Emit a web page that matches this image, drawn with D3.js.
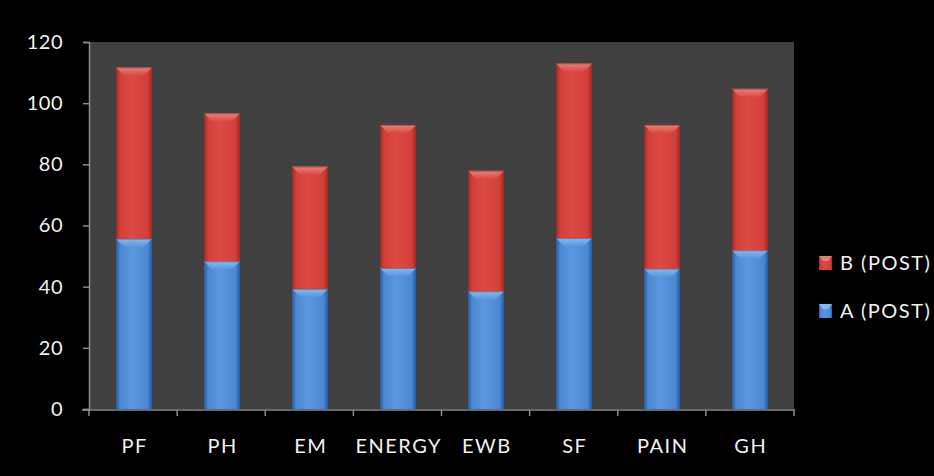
<!DOCTYPE html>
<html>
<head>
<meta charset="utf-8">
<script src="https://cdn.jsdelivr.net/npm/d3@7"></script>
<style>
  html, body { margin: 0; padding: 0; background: #000; }
  svg { display: block; }
  text { font-family: Lato, "Open Sans", sans-serif; fill: #f2f2f2; }
</style>
</head>
<body>
<svg id="chart" width="934" height="476"></svg>
<script>
// Scale categories and stacked series values
const categories = ["PF", "PH", "EM", "ENERGY", "EWB", "SF", "PAIN", "GH"];
const seriesA = [55.7, 48.3, 39.3, 46.1, 38.5, 55.9, 45.9, 51.9];   // A (POST)
const seriesB = [56.0, 48.4, 40.0, 46.8, 39.4, 57.1, 47.0, 52.8];   // B (POST)
const yTicks = [0, 20, 40, 60, 80, 100, 120];
const seriesNames = ["A (POST)", "B (POST)"];

const svg = d3.select("#chart");
const W = 934, H = 476;
const plot = { left: 90, right: 794, top: 42, bottom: 409 };

svg.append("rect").attr("width", W).attr("height", H).attr("fill", "#000");

const x = d3.scaleBand().domain(categories)
  .range([plot.left, plot.right]).paddingInner(0.59).paddingOuter(0.295);
const y = d3.scaleLinear().domain([0, 120]).range([plot.bottom, plot.top]);

// Plot area background
svg.append("rect")
  .attr("x", plot.left).attr("y", plot.top)
  .attr("width", plot.right - plot.left).attr("height", plot.bottom - plot.top)
  .attr("fill", "#404040");

// Gradients giving the bars their rounded shading
const defs = svg.append("defs");
const palettes = {
  A: { edge: "#2a5c9c", mid: "#4a88d4", light: "#5b97de", bevel: "#8cc0f4" },
  B: { edge: "#9c2a26", mid: "#d23f3a", light: "#dc4a44", bevel: "#f08880" }
};
Object.entries(palettes).forEach(([k, p]) => {
  const g = defs.append("linearGradient").attr("id", "grad" + k)
    .attr("x1", "0%").attr("x2", "100%").attr("y1", "0%").attr("y2", "0%");
  [[0, p.edge], [0.12, p.mid], [0.45, p.light], [0.88, p.mid], [1, p.edge]]
    .forEach(([o, c]) => g.append("stop").attr("offset", o).attr("stop-color", c));
  const b = defs.append("linearGradient").attr("id", "bevel" + k)
    .attr("x1", "0%").attr("x2", "0%").attr("y1", "0%").attr("y2", "100%");
  b.append("stop").attr("offset", 0).attr("stop-color", p.bevel);
  b.append("stop").attr("offset", 1).attr("stop-color", p.light);
});

// Stack the two series
const rows = categories.map((c, i) => ({ cat: c, A: seriesA[i], B: seriesB[i] }));
const stacked = d3.stack().keys(["A", "B"])(rows);

const bw = x.bandwidth();
const bevel = 8;
stacked.forEach(layer => {
  const key = layer.key;
  const g = svg.append("g");
  layer.forEach(d => {
    const x0 = x(d.data.cat);
    const yTop = y(d[1]);
    const yBot = y(d[0]);
    g.append("rect")
      .attr("x", x0).attr("y", yTop)
      .attr("width", bw).attr("height", yBot - yTop)
      .attr("fill", `url(#grad${key})`);
    // bevelled top face
    g.append("path")
      .attr("d", `M${x0},${yTop}L${x0 + bw},${yTop}L${x0 + bw - bevel},${yTop + bevel}L${x0 + bevel},${yTop + bevel}Z`)
      .attr("fill", `url(#bevel${key})`).attr("opacity", 0.9);
    // dark rim along the top edge
    g.append("line")
      .attr("x1", x0).attr("x2", x0 + bw).attr("y1", yTop + 0.5).attr("y2", yTop + 0.5)
      .attr("stroke", palettes[key].edge).attr("stroke-width", 1).attr("opacity", 0.6);
  });
});

const labelFont = "Lato, 'Open Sans', sans-serif";

// Y axis
const yAxis = d3.axisLeft(y).tickValues(yTicks).tickSize(6).tickPadding(20);
const yg = svg.append("g").attr("transform", `translate(${plot.left - 1},0)`).call(yAxis);
yg.select(".domain").attr("stroke", "#8c8c8c").attr("stroke-width", 1.5);
yg.selectAll(".tick line").attr("stroke", "#8c8c8c").attr("stroke-width", 1.5);
yg.selectAll(".tick text").attr("font-size", 20).style("font-family", labelFont)
  .style("letter-spacing", "0.5px").attr("fill", "#f2f2f2");

// X axis with ticks on category boundaries
const xg = svg.append("g").attr("transform", `translate(0,${plot.bottom + 1})`);
xg.append("line").attr("x1", plot.left - 8).attr("x2", plot.right + 1)
  .attr("stroke", "#8c8c8c").attr("stroke-width", 1.5);
d3.range(categories.length + 1).forEach(i => {
  const xp = plot.left - 1 + i * (plot.right - plot.left + 1) / categories.length;
  xg.append("line").attr("x1", xp).attr("x2", xp).attr("y1", 0).attr("y2", 6)
    .attr("stroke", "#8c8c8c").attr("stroke-width", 1.5);
});
xg.selectAll("text.cat").data(categories).join("text")
  .attr("class", "cat")
  .attr("x", d => x(d) + bw / 2 + 0.75).attr("y", 43)
  .attr("text-anchor", "middle").attr("font-size", 20)
  .style("letter-spacing", "1.5px")
  .text(d => d);

// Legend
const legend = svg.append("g");
const legendItems = [
  { key: "B", name: seriesNames[1], y: 263 },
  { key: "A", name: seriesNames[0], y: 311 }
];
legendItems.forEach(it => {
  const p = palettes[it.key];
  legend.append("rect").attr("x", 819).attr("y", it.y - 7).attr("width", 13).attr("height", 14)
    .attr("fill", `url(#grad${it.key})`);
  legend.append("path")
    .attr("d", `M819,${it.y - 7}L832,${it.y - 7}L828,${it.y - 2}L823,${it.y - 2}Z`)
    .attr("fill", p.bevel).attr("opacity", 0.85);
  legend.append("text").attr("x", 840).attr("y", it.y + 7)
    .attr("font-size", 20).style("letter-spacing", "1.5px").text(it.name);
});
</script>
</body>
</html>
